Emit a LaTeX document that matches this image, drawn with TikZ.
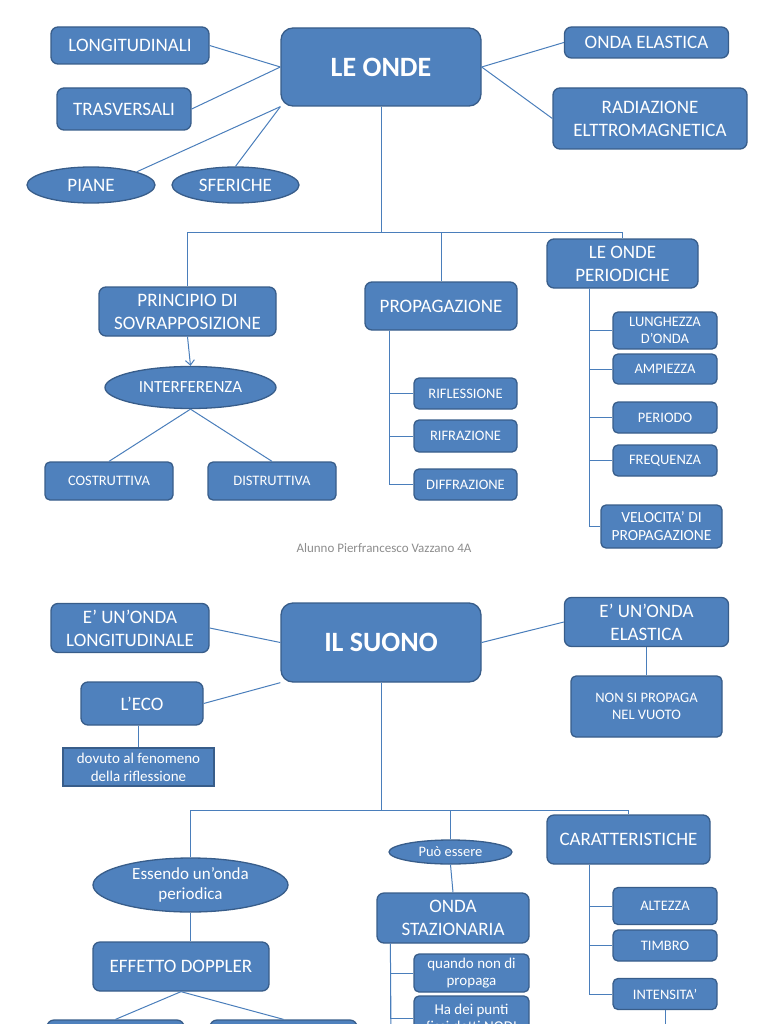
\documentclass[tikz,border=0pt]{standalone}
\usepackage{fontspec}
\setmainfont{Carlito}
\usetikzlibrary{arrows.meta,shapes.geometric}
\definecolor{boxfill}{HTML}{4F81BD}
\definecolor{boxline}{HTML}{385D8A}
\definecolor{wirecol}{HTML}{4A7EBB}
\definecolor{footgray}{HTML}{8C8C8C}

\begin{document}
\begin{tikzpicture}[
  x=1pt, y=-1pt,
  sz/.style 2 args={minimum width=#1pt, minimum height=#2pt},
  box/.style={draw=boxline, fill=boxfill, text=white, line width=1.3pt,
              rounded corners=7pt, align=center, inner sep=0pt,
              font=\fontsize{19}{23}\selectfont},
  title/.style={box, rounded corners=12pt, font=\bfseries\fontsize{28}{32}\selectfont},
  small/.style={box, rounded corners=5pt, font=\fontsize{14.5}{17}\selectfont},
  oval/.style={box, ellipse},
  note/.style={box, rounded corners=0pt, font=\fontsize{15}{18}\selectfont},
  wire/.style={draw=wirecol, line width=1pt},
  arrow/.style={wire, -{Straight Barb[length=5pt, width=9pt]}}
]
\useasboundingbox (0,0) rectangle (768,1024);
\clip (0,0) rectangle (768,1024);

% --- le onde ---
\node[title, sz={200}{78}] (onde) at (381,67) {LE ONDE};
\node[box, sz={158}{37}] (longi) at (130,45.5) {LONGITUDINALI};
\node[box, sz={134}{42}] (trasv) at (124,109) {TRASVERSALI};
\node[oval, sz={128}{36}] (piane) at (91,185) {PIANE};
\node[oval, sz={127}{36}] (sfer) at (235.5,185) {SFERICHE};
\node[box, sz={164}{31}] (elast) at (646.5,42.5) {ONDA ELASTICA};
\node[box, sz={194}{61}] (radia) at (650,118.5) {RADIAZIONE\\ELTTROMAGNETICA};

\node[box, sz={177}{49}] (princ) at (187.5,311.5) {PRINCIPIO DI\\SOVRAPPOSIZIONE};
\node[oval, sz={171}{42}, font=\fontsize{17}{20}\selectfont] (interf) at (190.5,387.5) {INTERFERENZA};
\node[small, sz={128}{38}] (costr) at (109,481) {COSTRUTTIVA};
\node[small, sz={128}{38}] (distr) at (272,481) {DISTRUTTIVA};

\node[box, sz={152}{48}] (propag) at (441,306) {PROPAGAZIONE};
\node[small, sz={103}{31}] (rifl) at (465.5,393.5) {RIFLESSIONE};
\node[small, sz={103}{32}] (rifr) at (465.5,436) {RIFRAZIONE};
\node[small, sz={103}{31}] (diffr) at (465.5,484.5) {DIFFRAZIONE};

\node[box, sz={151}{49}] (period) at (622.5,263.5) {LE ONDE\\PERIODICHE};
\node[small, sz={104}{37}] (lungh) at (665,330.5) {LUNGHEZZA\\D’ONDA};
\node[small, sz={104}{30}] (ampie) at (665,369) {AMPIEZZA};
\node[small, sz={104}{31}] (perio) at (665,417.5) {PERIODO};
\node[small, sz={104}{31}] (frequ) at (665,460.5) {FREQUENZA};
\node[small, sz={121}{43}, font=\fontsize{15.5}{18}\selectfont] (veloc) at (661.5,526.5) {VELOCITA’ DI\\PROPAGAZIONE};

\node[text=footgray, font=\fontsize{13}{15}\selectfont] (firma) at (384,548) {Alunno Pierfrancesco Vazzano 4A};

\coordinate (hub1) at (381,233);
\coordinate (propbr) at ([xshift=25pt]propag.south west);
\coordinate (periodbr) at ([xshift=43pt]period.south west);

\draw[wire] (longi.east) -- (onde.west);
\draw[wire] (trasv.east) -- (onde.west);
\draw[wire] (piane.north east) -- (onde.south west);
\draw[wire] (sfer.north) -- (onde.south west);
\draw[wire] (onde.east) -- (elast.west);
\draw[wire] (onde.east) -- (radia.west);
\draw[wire] (onde) -- (hub1);
\draw[wire] (hub1) -| (princ);
\draw[wire] (hub1) -| (propag);
\draw[wire] (hub1) -| (period);
\draw[arrow] (princ.south) -- (interf.north);
\draw[wire] (interf.south) -- (costr.north);
\draw[wire] (interf.south) -- (distr.north);
\draw[wire] (propbr) |- (rifl);
\draw[wire] (propbr) |- (rifr);
\draw[wire] (propbr) |- (diffr);
\draw[wire] (periodbr) |- (lungh);
\draw[wire] (periodbr) |- (ampie);
\draw[wire] (periodbr) |- (perio);
\draw[wire] (periodbr) |- (frequ);
\draw[wire] (periodbr) |- (veloc);

% --- il suono ---
\node[title, sz={200}{79}] (suono) at (381,642.5) {IL SUONO};
\node[box, sz={158}{49}] (elong) at (130,628) {E’ UN’ONDA\\LONGITUDINALE};
\node[box, sz={122}{43}] (eco) at (142,703.5) {L’ECO};
\node[note, sz={151}{38}] (dovuto) at (138.5,767) {dovuto al fenomeno\\della riflessione};
\node[box, sz={164}{49}] (eelast) at (646.5,622) {E’ UN’ONDA\\ELASTICA};
\node[small, sz={151}{61}] (nonsi) at (646.5,706.5) {NON SI PROPAGA\\NEL VUOTO};

\node[oval, sz={195}{54}, font=\fontsize{17}{20}\selectfont] (essendo) at (190.5,885) {Essendo un’onda\\periodica};
\node[box, sz={176}{49}] (doppler) at (181,966.5) {EFFETTO DOPPLER};
\node[box, sz={137}{44}] (dopsx) at (115.5,1042) {};
\node[box, sz={147}{44}] (dopdx) at (283.5,1042) {};

\node[oval, sz={123}{24}, font=\fontsize{14.5}{17}\selectfont] (puo) at (450.5,852) {Può essere};
\node[box, sz={152}{50}] (stazio) at (453,918) {ONDA\\STAZIONARIA};
\node[small, sz={115}{38}, font=\fontsize{15}{17}\selectfont] (quando) at (471.5,973) {quando non di\\propaga};
\node[small, sz={115}{44}, font=\fontsize{15}{17}\selectfont] (hadei) at (471.5,1018) {Ha dei punti\\fissi detti NODI};

\node[box, sz={163}{49}] (caratt) at (628.5,839.5) {CARATTERISTICHE};
\node[small, sz={104}{37}] (altez) at (665,906) {ALTEZZA};
\node[small, sz={104}{31}] (timbro) at (665,945.5) {TIMBRO};
\node[small, sz={104}{31}] (intens) at (665,994) {INTENSITA’};

\coordinate (hub2) at (381,810);
\coordinate (staziobr) at ([xshift=14pt]stazio.south west);
\coordinate (staziofoot) at (391,1030);
\coordinate (carattbr) at ([xshift=43pt]caratt.south west);
\coordinate (intfoot) at ([yshift=-30pt]intens.south);

\draw[wire] (elong.east) -- (suono.west);
\draw[wire] (eco.east) -- (suono.south west);
\draw[wire] (eco.south -| dovuto.north) -- (dovuto.north);
\draw[wire] (suono.east) -- (eelast.west);
\draw[wire] (eelast.south) -- (nonsi.north);
\draw[wire] (suono) -- (hub2);
\draw[wire] (hub2) -| (essendo);
\draw[wire] (hub2) -| (puo);
\draw[wire] (hub2) -| (caratt);
\draw[wire] (essendo) -- (essendo |- doppler.north);
\draw[wire] (doppler.south) -- (dopsx.north);
\draw[wire] (doppler.south) -- (dopdx.north);
\draw[wire] (puo.south) -- (stazio.north);
\draw[wire] (staziobr) -- (staziofoot);
\draw[wire] (staziobr) |- (quando);
\draw[wire] (staziobr) |- (hadei);
\draw[wire] (carattbr) |- (altez);
\draw[wire] (carattbr) |- (timbro);
\draw[wire] (carattbr) |- (intens);
\draw[wire] (intens) -- (intfoot);
\end{tikzpicture}
\end{document}
